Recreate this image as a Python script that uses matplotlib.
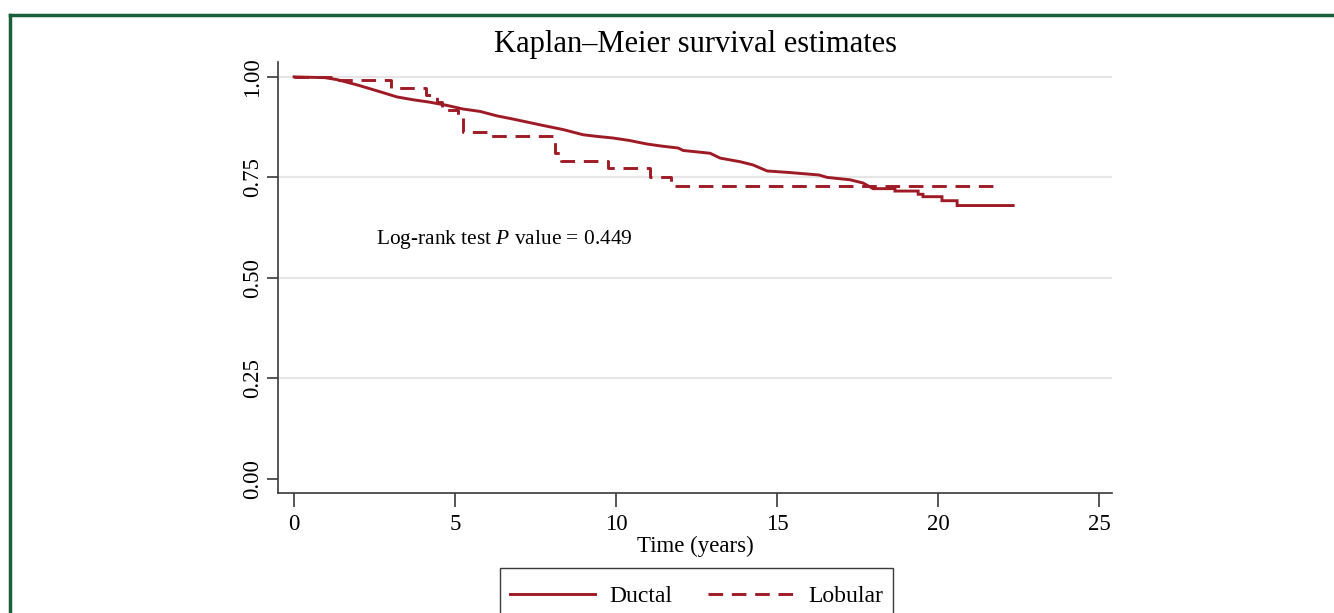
import matplotlib
matplotlib.use("Agg")
import matplotlib.pyplot as plt
from matplotlib.lines import Line2D
from matplotlib.patches import Rectangle

# ---------------- data ----------------
# Ductal: traced path of the KM curve (many tiny steps early, visible steps at the tail)
ductal_time = [0, 0.96, 1.34, 1.96, 2.67, 3.2, 3.7, 4.22, 4.75, 5.25, 5.78, 6.3, 6.8,
               7.33, 7.8, 8.35, 8.98, 9.4, 9.9, 10.4, 10.96, 11.4, 11.93, 12.08, 12.92,
               13.23, 13.85, 14.25, 14.69, 15.4, 16.3, 16.55, 17.27, 17.67, 17.98,
               18.66, 18.66, 19.38, 19.38, 19.53, 19.53, 20.12, 20.12, 20.59, 20.59, 22.33]
ductal_surv = [1.0, 0.998, 0.993, 0.980, 0.963, 0.950, 0.943, 0.937, 0.929, 0.920, 0.914,
               0.903, 0.895, 0.886, 0.878, 0.869, 0.856, 0.852, 0.848, 0.842, 0.833, 0.828,
               0.823, 0.817, 0.810, 0.798, 0.789, 0.781, 0.766, 0.762, 0.756, 0.750, 0.744,
               0.736, 0.722,
               0.722, 0.716, 0.716, 0.708, 0.708, 0.702, 0.702, 0.692, 0.692, 0.680, 0.680]

# Lobular: step function (time of step, survival after step)
lobular_time = [0, 1.3, 3.0, 4.1, 4.45, 4.6, 5.1, 5.25, 6.0, 8.1, 8.3, 9.75, 11.05, 11.7, 21.95]
lobular_surv = [1.0, 0.991, 0.973, 0.955, 0.937, 0.918, 0.900, 0.864, 0.853, 0.810, 0.792,
                0.774, 0.751, 0.729, 0.729]

series_labels = ["Ductal", "Lobular"]
x_ticks = [0, 5, 10, 15, 20, 25]
y_ticks = [0.00, 0.25, 0.50, 0.75, 1.00]
y_tick_labels = ["0.00", "0.25", "0.50", "0.75", "1.00"]
title = "Kaplan\u2013Meier survival estimates"
x_label = "Time (years)"
annotation = "Log-rank test $\\it{P}$ value = 0.449"

# ---------------- style ----------------
plt.rcParams['font.family'] = ['Liberation Serif', 'DejaVu Serif']
plt.rcParams['mathtext.fontset'] = 'custom'
plt.rcParams['mathtext.it'] = 'Liberation Serif:italic'
plt.rcParams['mathtext.rm'] = 'Liberation Serif'

RED = '#9e1b25'
GRID = '#e6e6e6'
AXC = '#3a3a3a'
DASH = (0, (5, 3))

W, H = 1334, 613
fig = plt.figure(figsize=(W / 100, H / 100), dpi=100)
fig.patch.set_facecolor('white')

ax = fig.add_axes([278 / W, 1 - 493 / H, (1112 - 278) / W, (493 - 62) / H])

ax.plot(ductal_time, ductal_surv, color=RED, lw=2.1,
        label=series_labels[0], zorder=3, solid_joinstyle='miter')
ax.step(lobular_time, lobular_surv, where='post', color=RED, lw=2.1,
        linestyle=DASH, label=series_labels[1], zorder=3)

ax.set_xlim(-0.5, 25.4)
ax.set_ylim(-0.035, 1.037)

for yv in y_ticks[1:]:
    ax.axhline(yv, color=GRID, lw=1.6, zorder=1)

ax.set_xticks(x_ticks)
ax.set_yticks(y_ticks)
ax.set_yticklabels(y_tick_labels, rotation=90, va='center')
ax.tick_params(axis='y', length=8, width=1.2, color=AXC, pad=3, labelsize=16.5)
ax.tick_params(axis='x', length=10, width=1.2, color=AXC, pad=5, labelsize=16.5)

for s in ['top', 'right']:
    ax.spines[s].set_visible(False)
for s in ['left', 'bottom']:
    ax.spines[s].set_color(AXC)
    ax.spines[s].set_linewidth(1.2)

ax.set_xlabel(x_label, fontsize=16.5, labelpad=1)
ax.set_title(title, fontsize=22, pad=7)

ax.text(2.55, 0.595, annotation, fontsize=15.4, va='center', ha='left')

handles = [Line2D([0], [0], color=RED, lw=2.1),
           Line2D([0], [0], color=RED, lw=2.1, linestyle=DASH)]
leg = fig.legend(handles, series_labels, loc='upper center',
                 bbox_to_anchor=(696.5 / W, 1 - 568 / H), ncol=2, fontsize=17,
                 frameon=True, fancybox=False, handlelength=3.6, columnspacing=1.5,
                 borderpad=0.75, handletextpad=0.65, borderaxespad=0)
leg.get_frame().set_visible(False)
# legend box (tighter horizontally, extends past the bottom edge as in the reference)
box_top = 1 - 568 / H
box_bottom = -10 / H
fig.add_artist(Rectangle((500 / W, box_bottom), (893 - 500) / W, box_top - box_bottom,
                         transform=fig.transFigure, fill=False, edgecolor=AXC, lw=1.0,
                         zorder=5))

# green outer border (top and left)
GREEN = '#1b5e3b'
fig.add_artist(Line2D([10 / W, 1], [1 - 14.5 / H, 1 - 14.5 / H], transform=fig.transFigure,
                      color=GREEN, lw=2.5))
fig.add_artist(Line2D([10 / W, 10 / W], [0, 1 - 14.5 / H], transform=fig.transFigure,
                      color=GREEN, lw=2.5))

fig.savefig("out.png", dpi=100)
